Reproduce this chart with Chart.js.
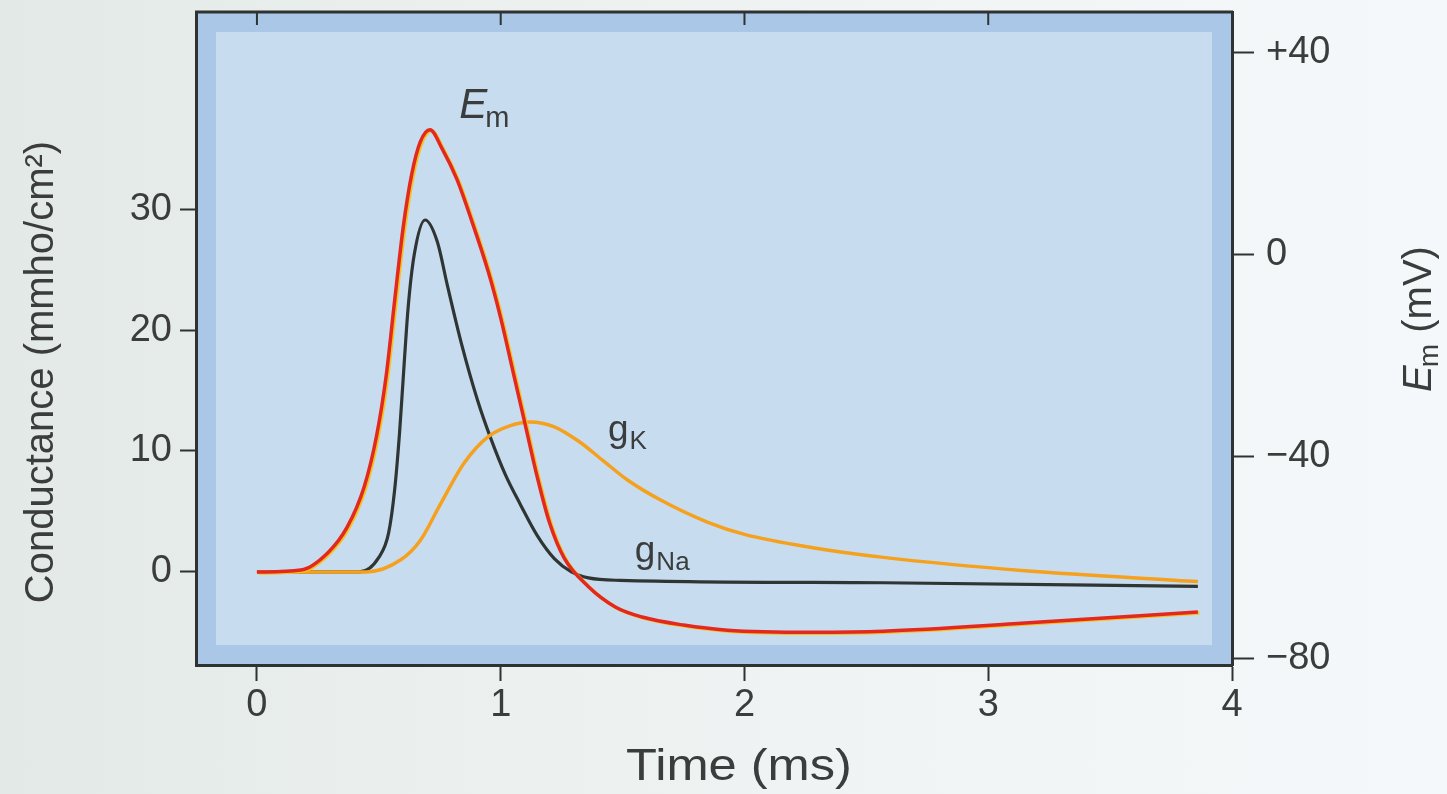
<!DOCTYPE html>
<html>
<head>
<meta charset="utf-8">
<script src="https://cdn.jsdelivr.net/npm/chart.js@4.4.1/dist/chart.umd.min.js"></script>
<style>
  html, body { margin: 0; padding: 0; }
  body {
    width: 1447px; height: 794px; overflow: hidden;
    background: linear-gradient(to right, #e2e9e6 0%, #ebf0ee 30%, #f1f5f6 70%, #f4f8fa 100%);
  }
  #wrap { position: relative; width: 1447px; height: 794px; }
</style>
</head>
<body>
<div id="wrap"><canvas id="myChart" width="1447" height="794"></canvas></div>
<script>
// membrane potential E_m (mV, right axis)
const emTime = [0, 0.18, 0.29, 0.37, 0.44, 0.49, 0.53, 0.565, 0.60, 0.635, 0.67, 0.71, 0.76, 0.82, 0.88, 0.95, 1.0, 1.05, 1.10, 1.15, 1.20, 1.26, 1.36, 1.47, 1.58, 1.75, 1.93, 2.28, 2.57, 3.15, 3.86]
const emValues = [-62.8, -62.4, -59.0, -53.9, -45.9, -36.0, -24.0, -9.0, 5.5, 16.0, 22.4, 24.8, 21.0, 15.0, 6.9, -3.5, -12.5, -23.0, -33.5, -44.0, -53.0, -60.0, -65.7, -69.7, -71.7, -73.3, -74.3, -74.7, -74.5, -72.9, -70.7]

// sodium conductance gNa (mmho/cm2, left axis)
const gNaTime = [0, 0.42, 0.50, 0.54, 0.565, 0.585, 0.60, 0.62, 0.645, 0.69, 0.74, 0.78, 0.84, 0.905, 0.96, 1.02, 1.08, 1.15, 1.22, 1.29, 1.36, 1.49, 2.57, 3.86]
const gNaValues = [0, 0, 1.2, 3.2, 6.8, 11.5, 16.0, 21.8, 26.2, 29.1, 27.3, 23.8, 18.8, 14.2, 11.0, 8.0, 5.6, 3.0, 1.1, 0.0, -0.5, -0.7, -0.9, -1.2]

// potassium conductance gK (mmho/cm2, left axis)
const gKTime = [0, 0.45, 0.59, 0.67, 0.75, 0.85, 0.95, 1.04, 1.12, 1.22, 1.32, 1.42, 1.52, 1.66, 1.85, 2.0, 2.28, 2.57, 3.15, 3.86]
const gKValues = [0, 0, 1.0, 2.6, 5.5, 9.0, 11.2, 12.1, 12.4, 12.0, 10.8, 9.2, 7.6, 5.9, 4.1, 3.1, 2.0, 1.2, 0.1, -0.8]

const timeTicks = [0, 1, 2, 3, 4]
const conductanceTicks = [0, 10, 20, 30]
const emTicks = [40, 0, -40, -80]

const textColor = '#3a3d3c'
const axisColor = '#2e3332'
const tickFont = { family: 'Liberation Sans, Arial, sans-serif', size: 38 }

function toPoints(xs, ys) {
  return xs.map(function (v, i) { return { x: v, y: ys[i] } })
}

function formatEm(v) {
  if (v > 0) return '+' + v
  if (v < 0) return '\u2212' + Math.abs(v)
  return '0'
}

function noEdgePadding(s) {
  s.paddingTop = 0
  s.paddingBottom = 0
  s.paddingLeft = 0
  s.paddingRight = 0
}

// main text + subscript, left aligned at baseline
function drawSub(ctx, main, sub, px, py, italic, size, subSize) {
  ctx.font = (italic ? 'italic ' : '') + size + 'px Liberation Sans, Arial, sans-serif'
  ctx.fillText(main, px, py)
  const w = ctx.measureText(main).width
  ctx.font = subSize + 'px Liberation Sans, Arial, sans-serif'
  ctx.fillText(sub, px + w + (italic ? -2 : 1), py + subSize * 0.3)
}

const framePlugin = {
  id: 'frame',
  beforeDraw(chart) {
    const ctx = chart.ctx
    const a = chart.chartArea
    ctx.save()
    ctx.fillStyle = '#abc7e7'
    ctx.fillRect(a.left, a.top, a.right - a.left, a.bottom - a.top)
    ctx.fillStyle = '#c8dcf0'
    ctx.fillRect(a.left + 20, a.top + 20, a.right - a.left - 40, a.bottom - a.top - 40)
    ctx.restore()
  },
  afterDraw(chart) {
    const ctx = chart.ctx
    const a = chart.chartArea
    const x = chart.scales.x
    ctx.save()
    ctx.strokeStyle = axisColor
    ctx.lineWidth = 3
    ctx.beginPath()
    ctx.moveTo(a.left - 1, a.top)
    ctx.lineTo(a.right + 1, a.top)
    ctx.stroke()
    // small inward ticks along the top edge
    ctx.lineWidth = 2
    timeTicks.slice(0, 4).forEach(function (t) {
      const px = x.getPixelForValue(t)
      ctx.beginPath()
      ctx.moveTo(px, a.top)
      ctx.lineTo(px, a.top + 13)
      ctx.stroke()
    })

    // curve labels
    ctx.fillStyle = textColor
    ctx.textBaseline = 'alphabetic'
    ctx.textAlign = 'left'
    const y = chart.scales.y
    drawSub(ctx, 'E', 'm', x.getPixelForValue(0.83), y.getPixelForValue(37.5), true, 42, 29)
    drawSub(ctx, 'g', 'K', x.getPixelForValue(1.44), y.getPixelForValue(10.8), false, 37, 26)
    drawSub(ctx, 'g', 'Na', x.getPixelForValue(1.55), y.getPixelForValue(0.8), false, 37, 26)

    // axis titles
    ctx.save()
    ctx.translate(42, 372)
    ctx.rotate(-Math.PI / 2)
    ctx.textAlign = 'center'
    ctx.textBaseline = 'middle'
    ctx.font = '40px Liberation Sans, Arial, sans-serif'
    ctx.fillText('Conductance (mmho/cm\u00b2)', 0, 0)
    ctx.restore()

    ctx.save()
    ctx.translate(1420, 318)
    ctx.rotate(-Math.PI / 2)
    ctx.font = 'italic 40px Liberation Sans, Arial, sans-serif'
    const wE = ctx.measureText('E').width
    ctx.font = '28px Liberation Sans, Arial, sans-serif'
    const wM = ctx.measureText('m').width
    ctx.font = '40px Liberation Sans, Arial, sans-serif'
    const wR = ctx.measureText(' (mV)').width
    const start = -(wE + wM + wR) / 2
    ctx.textBaseline = 'middle'
    ctx.font = 'italic 40px Liberation Sans, Arial, sans-serif'
    ctx.fillText('E', start, 0)
    ctx.font = '28px Liberation Sans, Arial, sans-serif'
    ctx.fillText('m', start + wE - 2, 10)
    ctx.font = '40px Liberation Sans, Arial, sans-serif'
    ctx.fillText(' (mV)', start + wE + wM - 2, 0)
    ctx.restore()

    ctx.save()
    ctx.translate(739, 768)
    ctx.scale(1.15, 1)
    ctx.textAlign = 'center'
    ctx.textBaseline = 'middle'
    ctx.font = '44px Liberation Sans, Arial, sans-serif'
    ctx.fillText('Time (ms)', 0, 0)
    ctx.restore()

    ctx.restore()
  },
  beforeDatasetDraw(chart, args) {
    const ctx = chart.ctx
    ctx.save()
    if (args.index === 0) {
      ctx.shadowColor = '#f4c21c'
      ctx.shadowOffsetX = 1.5
      ctx.shadowOffsetY = 1
      ctx.shadowBlur = 0
    }
  },
  afterDatasetDraw(chart) {
    chart.ctx.restore()
  }
}

const datachart = {
  datasets: [{
    label: 'Em',
    data: toPoints(emTime, emValues),
    xAxisID: 'x',
    yAxisID: 'yEm',
    borderColor: '#e3281f',
    borderWidth: 3.5
  }, {
    label: 'gK',
    data: toPoints(gKTime, gKValues),
    xAxisID: 'x',
    yAxisID: 'y',
    borderColor: '#f5a11d',
    borderWidth: 3.5
  }, {
    label: 'gNa',
    data: toPoints(gNaTime, gNaValues),
    xAxisID: 'x',
    yAxisID: 'y',
    borderColor: '#2f3533',
    borderWidth: 3.2
  }]
}

const config = {
  type: 'line',
  data: datachart,
  options: {
    responsive: false,
    animation: false,
    layout: { padding: { top: 12, left: 0, right: 0, bottom: 0 } },
    elements: {
      point: { radius: 0 },
      line: { cubicInterpolationMode: 'monotone', fill: false }
    },
    plugins: {
      legend: { display: false },
      tooltip: { enabled: false }
    },
    scales: {
      x: {
        type: 'linear',
        position: 'bottom',
        min: -0.25,
        max: 4.0,
        afterBuildTicks: function (s) { s.ticks = timeTicks.map(function (v) { return { value: v } }) },
        afterFit: function (s) { s.height = 129; noEdgePadding(s) },
        grid: { drawOnChartArea: false, tickLength: 16, tickColor: axisColor, tickWidth: 2 },
        border: { color: axisColor, width: 3 },
        ticks: { font: tickFont, color: textColor, padding: 2, maxRotation: 0 }
      },
      y: {
        type: 'linear',
        position: 'left',
        min: -7.7,
        max: 46.3,
        afterBuildTicks: function (s) { s.ticks = conductanceTicks.map(function (v) { return { value: v } }) },
        afterFit: function (s) { s.width = 196; noEdgePadding(s) },
        grid: { drawOnChartArea: false, tickLength: 16, tickColor: axisColor, tickWidth: 2 },
        border: { color: axisColor, width: 3 },
        ticks: { font: tickFont, color: textColor, padding: 8 }
      },
      yEm: {
        type: 'linear',
        position: 'right',
        min: -81.2,
        max: 48.1,
        afterBuildTicks: function (s) { s.ticks = emTicks.map(function (v) { return { value: v } }) },
        afterFit: function (s) { s.width = 215; noEdgePadding(s) },
        grid: { drawOnChartArea: false, tickLength: 22, tickColor: axisColor, tickWidth: 2 },
        border: { color: axisColor, width: 3 },
        ticks: { font: tickFont, color: textColor, padding: 12, callback: formatEm }
      }
    }
  },
  plugins: [framePlugin]
}

const myChart = new Chart(document.getElementById('myChart'), config)
</script>
</body>
</html>
